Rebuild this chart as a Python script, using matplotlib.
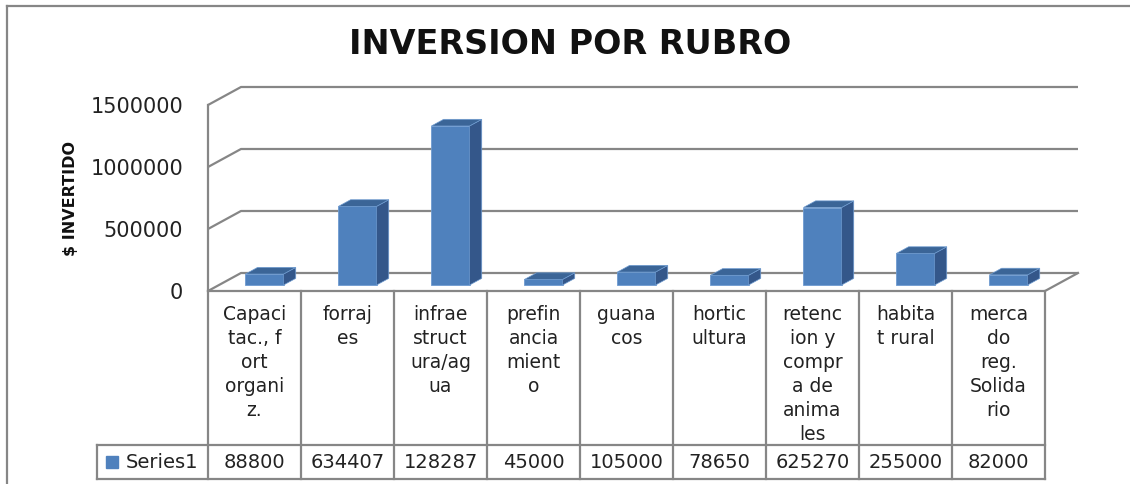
import matplotlib
matplotlib.use('Agg')
import matplotlib.pyplot as plt
from matplotlib.patches import Polygon
from matplotlib.lines import Line2D

# data
categories = ['Capaci\ntac., f\nort\norgani\nz.', 'forraj\nes', 'infrae\nstruct\nura/ag\nua',
              'prefin\nancia\nmient\no', 'guana\ncos', 'hortic\nultura',
              'retenc\nion y\ncompr\na de\nanima\nles', 'habita\nt rural',
              'merca\ndo\nreg.\nSolida\nrio']
values = [88800, 634407, 1282870, 45000, 105000, 78650, 625270, 255000, 82000]
# the table in the original cuts the third value to six digits
table_labels = ['88800', '634407', '128287', '45000', '105000', '78650', '625270', '255000', '82000']
yticks = [0, 500000, 1000000, 1500000]

W, H = 1130, 484
grid_col = '#868686'
front_col = '#4F81BD'
side_col = '#34578A'
top_col = '#3B6597'

fig = plt.figure(figsize=(W / 100, H / 100), dpi=100)

# pixel layout of the plot box
px_cat = 93.0          # pixels per category
px_val = 124.0 / 1e6   # pixels per unit value
left_px, right_px, base_px, top_px = 208, 1078, 291, 87
dx = 33 / px_cat             # depth offset, in category units
dy = 18 / px_val             # depth offset, in value units

ax = fig.add_axes([left_px / W, (H - base_px) / H, (right_px - left_px) / W, (base_px - top_px) / H])
ax.set_xlim(0, (right_px - left_px) / px_cat)
ax.set_ylim(0, (base_px - top_px) / px_val)
for s in ax.spines.values():
    s.set_visible(False)
ax.set_xticks([])
ax.set_yticks(yticks)
ax.set_yticklabels([str(t) for t in yticks], fontsize=15, color='#222222')
ax.tick_params(axis='y', length=0, pad=18)
ax.patch.set_alpha(0)

n = len(values)
# back wall gridlines with the left wall diagonals
for t in yticks:
    ax.plot([0, dx, n + dx], [t, t + dy, t + dy], color=grid_col, lw=1.6, solid_capstyle='butt', clip_on=False)
ax.plot([0, 0], [0, yticks[-1]], color=grid_col, lw=1.6, clip_on=False)
ax.plot([0, n, n + dx], [0, 0, dy], color=grid_col, lw=1.6, clip_on=False)

# 3d-looking columns
f0, f1 = 0.33, 0.70
bw = 0.41
xs = [i + 0.49 + f0 * dx for i in range(n)]
ax.bar(xs, values, width=bw, bottom=f0 * dy, color=front_col, edgecolor='#6E9BD0', lw=0.6, zorder=3)
ddx, ddy = (f1 - f0) * dx, (f1 - f0) * dy
for x, v in zip(xs, values):
    xl, xr = x - bw / 2, x + bw / 2
    b, t = f0 * dy, v + f0 * dy
    ax.add_patch(Polygon([(xr, b), (xr + ddx, b + ddy), (xr + ddx, t + ddy), (xr, t)],
                         closed=True, fc=side_col, ec='#6E9BD0', lw=0.5, zorder=3))
    ax.add_patch(Polygon([(xl, t), (xr, t), (xr + ddx, t + ddy), (xl + ddx, t + ddy)],
                         closed=True, fc=top_col, ec='#6E9BD0', lw=0.5, zorder=3))

# data table below
tab_left, tab_bottom = 97, 479
row_split = 445 - base_px
tab = fig.add_axes([tab_left / W, (H - tab_bottom) / H, (n * px_cat + left_px - tab_left) / W, (tab_bottom - base_px) / H])
x0 = -(left_px - tab_left) / px_cat
tab.set_xlim(x0, n)
tab.set_ylim(tab_bottom - base_px, 0)
tab.axis('off')
for i in range(n + 1):
    tab.plot([i, i], [0, tab_bottom - base_px], color=grid_col, lw=1.6, clip_on=False)
tab.plot([x0, x0], [row_split, tab_bottom - base_px], color=grid_col, lw=1.6, clip_on=False)
for yy in [row_split, tab_bottom - base_px]:
    tab.plot([x0, n], [yy, yy], color=grid_col, lw=1.6, clip_on=False)

mid = (row_split + tab_bottom - base_px) / 2
for i, (lab, tl) in enumerate(zip(categories, table_labels)):
    tab.text(i + 0.5, 14, lab, ha='center', va='top', fontsize=13.5, linespacing=1.34, color='#222222')
    tab.text(i + 0.5, mid, tl, ha='center', va='center', fontsize=14, color='#222222')
tab.plot([(112 - left_px) / px_cat], [mid], marker='s', ms=9, color=front_col, clip_on=False)
tab.text((126 - left_px) / px_cat, mid, 'Series1', ha='left', va='center', fontsize=14, color='#222222')

# title and axis title
fig.text(570 / W, 1 - 44 / H, 'INVERSION POR RUBRO', ha='center', va='center', fontsize=24,
         fontweight='bold', color='#111111')
fig.text(70 / W, 1 - 198 / H, '$ INVERTIDO', ha='center', va='center', rotation=90, fontsize=11.5,
         fontweight='bold', color='#111111')

# chart border (runs off the right and bottom edges)
fig.add_artist(Line2D([7 / W, 1], [1 - 6 / H, 1 - 6 / H], color=grid_col, lw=1.6))
fig.add_artist(Line2D([7 / W, 7 / W], [0, 1 - 6 / H], color=grid_col, lw=1.6))

fig.savefig('out.png', dpi=100)
